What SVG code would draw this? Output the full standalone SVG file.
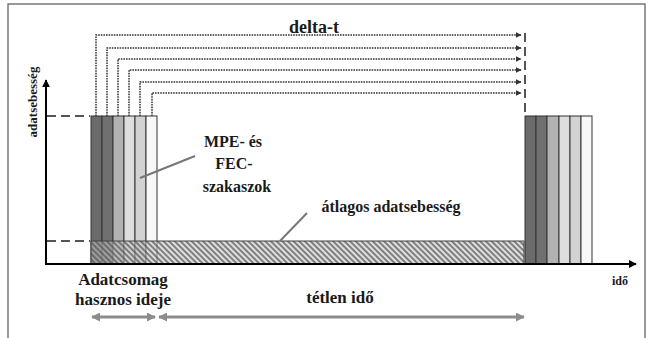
<svg xmlns="http://www.w3.org/2000/svg" width="651" height="338" viewBox="0 0 651 338">
<defs>
<style>
.dot{fill:none;stroke:#333;stroke-width:1.5;stroke-dasharray:1.6,1}
.stripe{stroke:#333;stroke-width:1}
.lead{stroke:#777;stroke-width:2;fill:none}
.dash{stroke:#555;stroke-width:2;stroke-dasharray:9,5}
.gar{stroke:#8c8c8c;stroke-width:3;fill:none}
</style>
<marker id="ah" viewBox="0 0 10 10" refX="9" refY="5" markerWidth="4" markerHeight="4" orient="auto"><path d="M0,0 L10,5 L0,10 z" fill="#333"/></marker>
<marker id="ax" viewBox="0 0 10 10" refX="9" refY="5" markerWidth="4" markerHeight="4" orient="auto"><path d="M0,0 L10,5 L0,10 z" fill="#000"/></marker>
<marker id="ga" viewBox="0 0 10 10" refX="9" refY="5" markerWidth="3" markerHeight="3" orient="auto-start-reverse"><path d="M0,0 L10,5 L0,10 z" fill="#8c8c8c"/></marker>
<pattern id="hatch" width="4" height="4" patternUnits="userSpaceOnUse" patternTransform="rotate(-45)">
<rect width="4" height="4" fill="#c4c4c4" fill-opacity="0.55"/>
<line x1="1" y1="0" x2="1" y2="4" stroke="#555" stroke-width="1.4"/>
</pattern>
</defs>
<rect x="0" y="0" width="651" height="338" fill="#fff"/>
<rect x="8" y="4" width="637" height="340" fill="none" stroke="#555" stroke-width="1.2"/>

<g id="block1">
<rect class="stripe" x="91" y="116" width="11" height="148" fill="#6b6b6b"/>
<rect class="stripe" x="102" y="116" width="11" height="148" fill="#707070"/>
<rect class="stripe" x="113" y="116" width="11" height="148" fill="#b2b2b2"/>
<rect class="stripe" x="124" y="116" width="11" height="148" fill="#dedede"/>
<rect class="stripe" x="135" y="116" width="11" height="148" fill="#d2d2d2"/>
<rect class="stripe" x="146" y="116" width="11" height="148" fill="#f8f8f8"/>
</g>
<g id="block2">
<rect class="stripe" x="525" y="116" width="11" height="148" fill="#6b6b6b"/>
<rect class="stripe" x="536" y="116" width="11" height="148" fill="#707070"/>
<rect class="stripe" x="547" y="116" width="12" height="148" fill="#b2b2b2"/>
<rect class="stripe" x="559" y="116" width="11" height="148" fill="#dedede"/>
<rect class="stripe" x="570" y="116" width="11" height="148" fill="#d2d2d2"/>
<rect class="stripe" x="581" y="116" width="11" height="148" fill="#f8f8f8"/>
</g>
<g id="avg">
<rect x="91" y="241" width="433" height="23" fill="url(#hatch)" stroke="#444" stroke-width="1"/>
</g>

<g id="connectors">
<line x1="47" y1="116" x2="90" y2="116" class="dash"/>
<line x1="47" y1="241" x2="90" y2="241" class="dash"/>
<path class="dot" d="M96,116 V35 H521" marker-end="url(#ah)"/>
<path class="dot" d="M107,116 V48 H521" marker-end="url(#ah)"/>
<path class="dot" d="M118,116 V59 H521" marker-end="url(#ah)"/>
<path class="dot" d="M129,116 V70 H521" marker-end="url(#ah)"/>
<path class="dot" d="M140,116 V82 H521" marker-end="url(#ah)"/>
<path class="dot" d="M152,116 V93 H521" marker-end="url(#ah)"/>
<line x1="525" y1="33" x2="525" y2="114" class="dash"/>
<line x1="140" y1="178" x2="195" y2="156" class="lead"/>
<line x1="280" y1="241" x2="307" y2="213" class="lead"/>
<line x1="46" y1="264" x2="46" y2="80" stroke="#000" stroke-width="2" marker-end="url(#ax)"/>
<line x1="45" y1="264" x2="636" y2="264" stroke="#000" stroke-width="2" marker-end="url(#ax)"/>
<line x1="92" y1="317" x2="155" y2="317" class="gar" marker-start="url(#ga)" marker-end="url(#ga)"/>
<line x1="159" y1="317" x2="524" y2="317" class="gar" marker-start="url(#ga)" marker-end="url(#ga)"/>
</g>

<g id="labels" font-family="'Liberation Serif', 'DejaVu Serif', serif" font-weight="bold" fill="#1a1a1a" text-anchor="middle">
<text x="314" y="33" font-size="18">delta-t</text>
<text x="233" y="147" font-size="16">MPE- és</text>
<text x="234" y="169" font-size="16">FEC-</text>
<text x="237" y="192" font-size="16">szakaszok</text>
<text x="391" y="212" font-size="16">átlagos adatsebesség</text>
<text x="123" y="285" font-size="17">Adatcsomag</text>
<text x="123" y="305" font-size="17">hasznos ideje</text>
<text x="340" y="303" font-size="17">tétlen idő</text>
<text x="620" y="285" font-size="12">idő</text>
<text x="0" y="0" font-size="13" transform="translate(37,102) rotate(-90)">adatsebesség</text>
</g>
</svg>
